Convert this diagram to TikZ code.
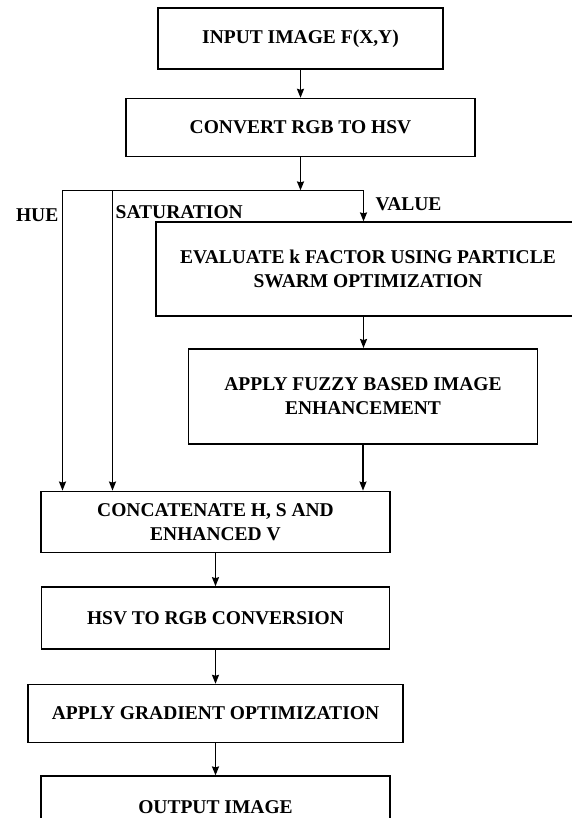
\documentclass[tikz,border=0pt]{standalone}
\usepackage{fontspec}
\setmainfont{Liberation Serif}
\usepackage{tikz}
\usetikzlibrary{arrows.meta, positioning}

\begin{document}
\begin{tikzpicture}[auto,
        block/.style={rectangle, draw, line width=1.6pt, align=center, inner sep=2pt, font=\bfseries\fontsize{19.5}{24}\selectfont},
        lbl/.style={inner sep=0pt, font=\bfseries\fontsize{19.5}{24}\selectfont},
        arrow/.style={-{Stealth[length=9pt, width=7pt, inset=1pt]}, line width=1.5pt}]

        \useasboundingbox (0,0) rectangle (571pt,-818pt);

        % Nodes
        \node[block, minimum width=285pt, minimum height=61pt] (input) at (300.5pt,-38.5pt) {INPUT IMAGE F(X,Y)};
        \node[block, minimum width=349pt, minimum height=58pt, below=28pt of input] (convert) {CONVERT RGB TO HSV};
        \node[block, minimum width=424pt, minimum height=94pt, below=64pt of convert, xshift=67.5pt] (evaluate) {EVALUATE k FACTOR USING PARTICLE\\SWARM OPTIMIZATION};
        \node[block, minimum width=349pt, minimum height=95pt, below=31pt of evaluate, xshift=-5pt] (fuzzy) {APPLY FUZZY BASED IMAGE\\ENHANCEMENT};
        \node[block, minimum width=349pt, minimum height=61pt, below=46pt of fuzzy, xshift=-147.5pt] (concat) {CONCATENATE H, S AND\\ENHANCED V};
        \node[block, minimum width=348pt, minimum height=62pt, below=33pt of concat] (hsvrgb) {HSV TO RGB CONVERSION};
        \node[block, minimum width=375pt, minimum height=58pt, below=34pt of hsvrgb] (gradient) {APPLY GRADIENT OPTIMIZATION};
        \node[block, minimum width=349pt, minimum height=61pt, below=32pt of gradient] (output) {OUTPUT IMAGE};

        % Split of the channels
        \coordinate[below=33pt of convert] (hub);
        \coordinate[left=238pt of hub] (huetop);
        \coordinate[left=188pt of hub] (sattop);
        \coordinate[right=63pt of hub] (valtop);

        \node[lbl, below left=18pt and 4pt of huetop] (hue) {HUE};
        \node[lbl, below right=15pt and 3pt of sattop] (sat) {SATURATION};
        \node[lbl, below right=7pt and 12pt of valtop] (val) {VALUE};

        % Arrows
        \draw[arrow] (input) -- (convert);
        \draw[arrow] (convert) -- (hub);
        \draw[line width=1.5pt] (huetop) -- (valtop);
        \draw[arrow] (valtop) -- (valtop |- evaluate.north);
        \draw[arrow] (valtop |- evaluate.south) -- (valtop |- fuzzy.north);
        \draw[arrow] (fuzzy.south) -- (fuzzy.south |- concat.north);
        \draw[arrow] (huetop) -- (huetop |- concat.north);
        \draw[arrow] (sattop) -- (sattop |- concat.north);

        \draw[arrow] (concat) -- (hsvrgb);
        \draw[arrow] (hsvrgb) -- (gradient);
        \draw[arrow] (gradient) -- (output);

    \end{tikzpicture}
\end{document}
